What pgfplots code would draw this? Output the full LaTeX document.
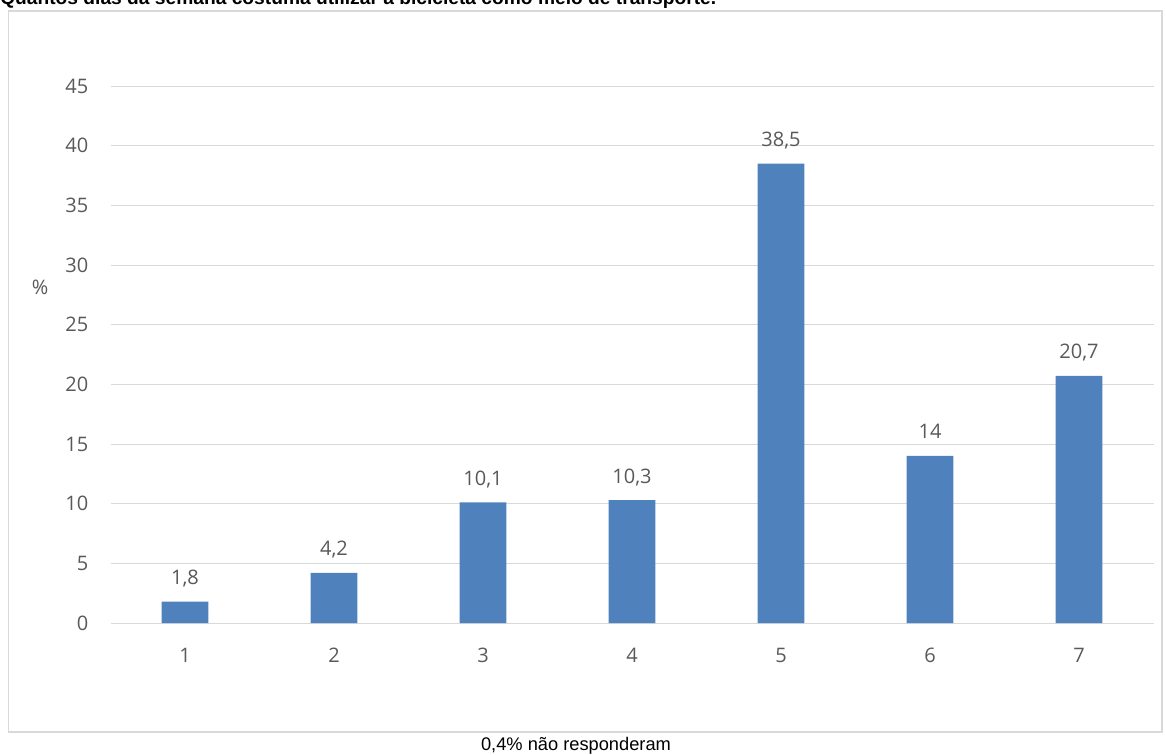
\documentclass[border=0pt]{standalone}
\usepackage{pgfplots}
\pgfplotsset{compat=1.18}
\usepackage{fontspec}
\setmainfont{Liberation Sans}
\newfontfamily\lblfont{Open Sans}
\definecolor{barblue}{HTML}{4F81BD}
\definecolor{gridgrey}{HTML}{D9D9D9}
\definecolor{txtgrey}{HTML}{595959}
\begin{document}
\begin{tikzpicture}
\useasboundingbox (0pt,0pt) rectangle (874.5pt,565.5pt);
\draw[gridgrey, line width=1.2pt] (6.375pt,16.5pt) rectangle (871.5pt,557.25pt);
\node[anchor=base west, inner sep=0pt, font=\bfseries\fontsize{14.4}{17}\selectfont] at (0pt,561.9pt)
  {Quantos dias da semana costuma utilizar a bicicleta como meio de transporte.};
\node[anchor=base, inner sep=0pt, font=\fontsize{13.7}{16}\selectfont] at (432pt,3pt)
  {0,4\% não responderam};
\begin{axis}[
  at={(82.875pt,98.25pt)}, anchor=south west,
  scale only axis, width=782.25pt, height=402.75pt,
  xmin=0.5, xmax=7.5, ymin=0, ymax=45,
  xtick={1,2,3,4,5,6,7},
  ytick={0,5,...,45},
  ymajorgrids, grid style={gridgrey, line width=0.75pt},
  axis line style={draw=none},
  major tick length=0pt,
  /pgf/number format/use comma,
  /pgf/number format/assume math mode=true,
  ticklabel style={font=\lblfont\fontsize{15}{18}\selectfont, text=txtgrey, inner sep=0pt},
  yticklabel style={anchor=east, xshift=-16.5pt},
  xticklabel style={anchor=base, yshift=-29.25pt},
  ylabel={\%},
  every axis y label/.style={at={(rel axis cs:-0.0676,0.6257)}, anchor=center, rotate=0,
    font=\lblfont\fontsize{15}{18}\selectfont, text=txtgrey, inner sep=0pt},
  ybar, bar width=0.315,
  nodes near coords,
  nodes near coords style={font=\lblfont\fontsize{15}{18}\selectfont, text=txtgrey, anchor=base, inner sep=0pt, yshift=12.75pt},
]
\addplot[fill=barblue, draw=none] coordinates {
 (1,1.8) (2,4.2) (3,10.1) (4,10.3) (5,38.5) (6,14) (7,20.7)
};
\end{axis}
\end{tikzpicture}
\end{document}
